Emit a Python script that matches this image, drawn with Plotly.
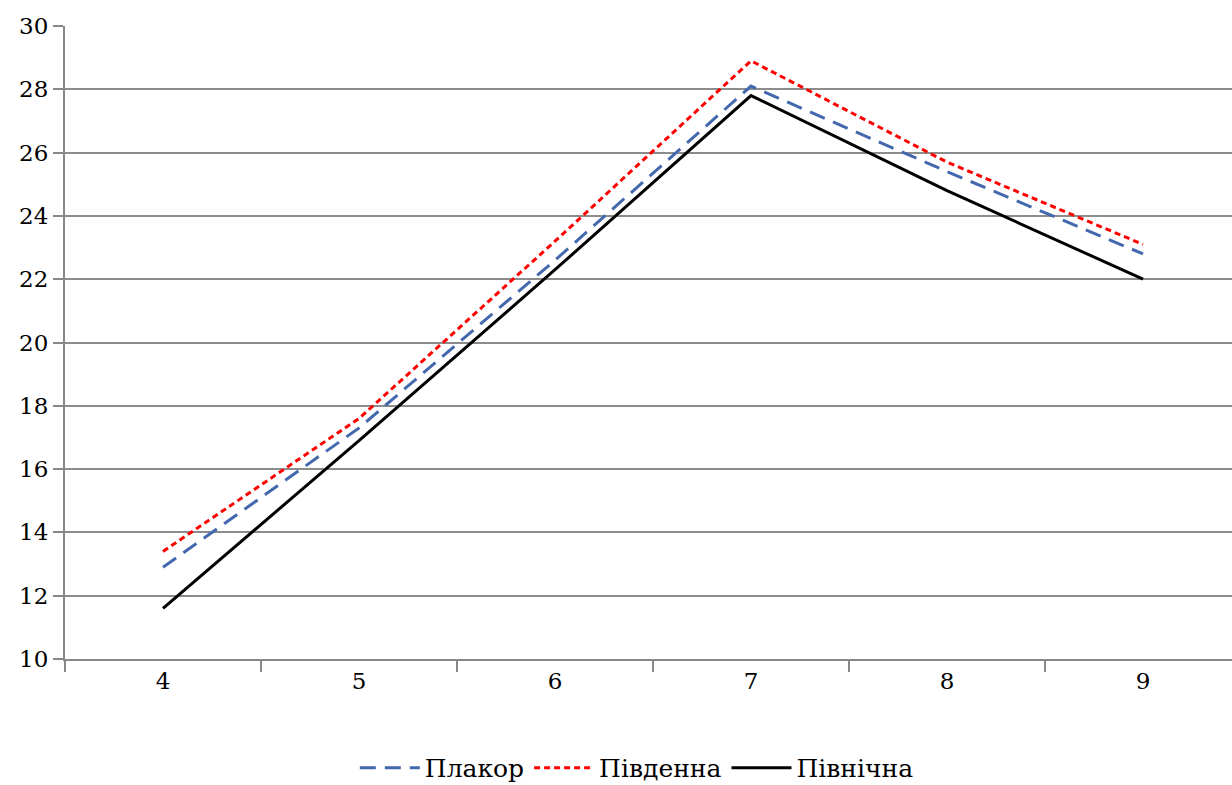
import plotly.graph_objects as go

categories = ["4", "5", "6", "7", "8", "9"]
plakor = [12.9, 17.3, 22.6, 28.1, 25.4, 22.8]
pivdenna = [13.4, 17.6, 23.2, 28.9, 25.7, 23.1]
pivnichna = [11.6, 16.9, 22.3, 27.8, 24.8, 22.0]
y_ticks = list(range(10, 31, 2))

font_family = "DejaVu Serif"

fig = go.Figure()
fig.add_trace(go.Scatter(x=categories, y=plakor, mode="lines", name="Плакор",
                         line=dict(color="#4468ad", width=3, dash="16px,9px")))
fig.add_trace(go.Scatter(x=categories, y=pivdenna, mode="lines", name="Південна",
                         line=dict(color="#ff0000", width=3, dash="6px,4px")))
fig.add_trace(go.Scatter(x=categories, y=pivnichna, mode="lines", name="Північна",
                         line=dict(color="#000000", width=3)))

fig.update_layout(
    width=1232, height=785,
    margin=dict(l=65, r=0, t=26, b=126, autoexpand=False),
    plot_bgcolor="white", paper_bgcolor="white",
    font=dict(family=font_family, size=23, color="black"),
    showlegend=True,
    legend=dict(orientation="h", x=0.49, xanchor="center", y=-0.172, yanchor="middle",
                font=dict(family=font_family, size=25), itemwidth=60, tracegroupgap=0),
    xaxis=dict(type="category", range=[-0.5, 5.454], tickson="boundaries",
               ticks="outside", ticklen=11, tickcolor="#888888", tickwidth=2,
               showline=True, linecolor="#888888", linewidth=2,
               showgrid=False, tickfont=dict(family=font_family, size=23)),
    yaxis=dict(range=[10, 30], tickvals=y_ticks, ticks="outside", ticklen=10,
               tickcolor="#888888", tickwidth=2,
               showline=True, linecolor="#888888", linewidth=2,
               showgrid=True, gridcolor="#8c8c8c", gridwidth=2,
               zeroline=False, tickfont=dict(family=font_family, size=23)),
)

fig.write_html("out.html")
